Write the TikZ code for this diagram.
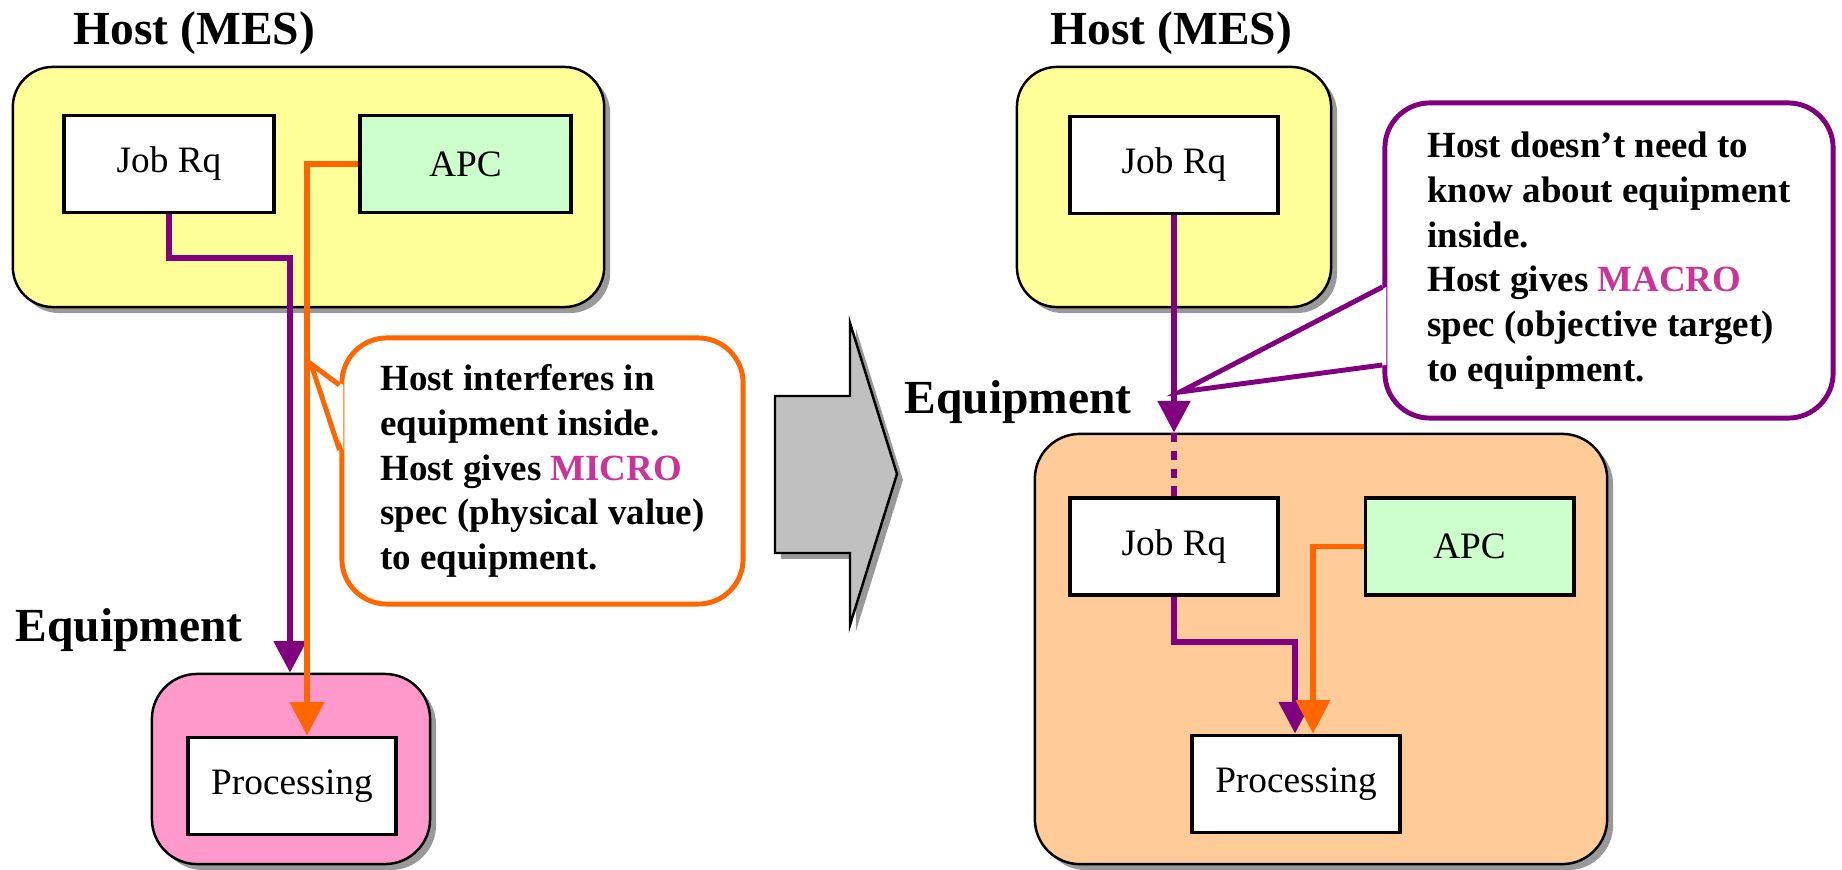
\documentclass[tikz,border=0pt]{standalone}
\usepackage{fontspec}
\setmainfont{Liberation Serif}
\usetikzlibrary{arrows.meta,shadows,calc}

\definecolor{hostyellow}{HTML}{FFFF99}
\definecolor{apcgreen}{HTML}{CCFFCC}
\definecolor{equippink}{HTML}{FF99CC}
\definecolor{equiporange}{HTML}{FFCC99}
\definecolor{jobpurple}{HTML}{800080}
\definecolor{apcorange}{HTML}{FF6600}
\definecolor{specmagenta}{HTML}{CC3399}
\definecolor{arrowgray}{HTML}{C0C0C0}
\definecolor{shadowgray}{HTML}{999999}

\tikzset{
  boxshadow/.style={drop shadow={shadow xshift=1.7pt, shadow yshift=-1.7pt, fill=shadowgray, opacity=1}},
  hostbox/.style={draw, line width=0.7pt, rounded corners=0.4cm, fill=hostyellow, boxshadow},
  equipbox/.style={draw, line width=0.7pt, rounded corners=0.45cm, boxshadow},
  unitbox/.style={draw, line width=1.1pt, fill=white, minimum width=2.08cm, minimum height=0.97cm,
    font=\fontsize{10.6}{12}\selectfont},
  headline/.style={anchor=base west, inner sep=0pt, font=\fontsize{13.5}{16}\selectfont\bfseries},
  notebox/.style={draw, line width=1.4pt, fill=white, rounded corners=0.45cm, align=left,
    font=\fontsize{10.5}{12.7}\selectfont\bfseries},
  jobflow/.style={draw=jobpurple, line width=1.7pt, -{Triangle[width=9pt,length=9pt]}},
  apcflow/.style={draw=apcorange, line width=1.6pt, -{Triangle[width=9.5pt,length=9.5pt]}},
}

\begin{document}
\begin{tikzpicture}[x=0.01cm, y=-0.01cm]
  \useasboundingbox (0,0) rectangle (1842,870);

  % 1. host interferes (MICRO spec)
  \node[hostbox, minimum width=5.91cm, minimum height=2.40cm] (hostL) at (308.5,187) {};
  \node[unitbox, minimum width=2.10cm] (jobL) at (169,164) {Job Rq};
  \node[unitbox, fill=apcgreen, minimum width=2.11cm] (apcL) at (465.5,164) {APC};
  \node[equipbox, fill=equippink, minimum width=2.78cm, minimum height=1.90cm] (equipL) at (291,769) {};
  \node[unitbox] (procL) at (292,786) {Processing};
  \node[headline] (hostTitleL) at (73,45) {Host (MES)};
  \node[headline] (equipTitleL) at (15,641) {Equipment};

  \coordinate (bendL) at (290,258);
  \draw[jobflow] (jobL.south) |- (bendL) -- (bendL |- equipL.north);
  \draw[apcflow] (apcL.west) -| ($(procL.north)+(15,0)$);

  \node[notebox, draw=apcorange, minimum width=4.01cm, minimum height=2.66cm] (noteL) at (542.5,471)
    {Host interferes in\\equipment inside.\\Host gives \textcolor{specmagenta}{MICRO}\\spec (physical value)\\to equipment.};
  \coordinate (tipL) at (311,364);
  \fill[white] ($(noteL.west)+(4,-86)$) -- (tipL) -- ($(noteL.west)+(4,-21)$) -- cycle;
  \draw[apcorange, line width=1.4pt] ($(noteL.west)+(0,-86)$) -- (tipL) -- ($(noteL.west)+(0,-21)$);

  % 2. big arrow
  \draw[fill=arrowgray, line width=0.7pt, boxshadow]
    (775,396) -- (850,396) -- (850,323) -- (897,474) -- (850,625) -- (850,553) -- (775,553) -- cycle;

  % 3. host gives target (MACRO spec)
  \node[hostbox, minimum width=3.14cm, minimum height=2.40cm] (hostR) at (1174,187) {};
  \node[unitbox] (jobHostR) at (1174,165) {Job Rq};
  \node[equipbox, fill=equiporange, minimum width=5.72cm, minimum height=4.30cm] (equipR) at (1321,649) {};
  \node[unitbox] (jobEqR) at (1174,546.5) {Job Rq};
  \node[unitbox, fill=apcgreen] (apcR) at (1469.5,546.5) {APC};
  \node[unitbox] (procR) at (1296,784) {Processing};
  \node[headline] (hostTitleR) at (1050,45) {Host (MES)};
  \node[headline] (equipTitleR) at (904,413) {Equipment};

  \draw[jobflow] (jobHostR.south) -- (jobHostR.south |- equipR.north);
  \draw[jobpurple, line width=1.7pt, dash pattern=on 2.8pt off 2.3pt] (equipR.north -| jobEqR.north) -- (jobEqR.north);
  \coordinate (bendR) at (1295,642);
  \draw[jobflow] (jobEqR.south) |- (bendR) -- (bendR |- procR.north);
  \draw[apcflow] (apcR.west) -| ($(procR.north)+(17,0)$);

  \node[notebox, draw=jobpurple, minimum width=4.48cm, minimum height=3.15cm] (noteR) at (1609,260.5)
    {Host doesn’t need to\\know about equipment\\inside.\\Host gives \textcolor{specmagenta}{MACRO}\\spec (objective target)\\to equipment.};
  \coordinate (tipR) at (1180,392);
  \fill[white] ($(noteR.west)+(4,26.5)$) -- (tipR) -- ($(noteR.west)+(4,104.5)$) -- cycle;
  \draw[jobpurple, line width=1.4pt] ($(noteR.west)+(0,26.5)$) -- (tipR) -- ($(noteR.west)+(0,104.5)$);
\end{tikzpicture}
\end{document}
